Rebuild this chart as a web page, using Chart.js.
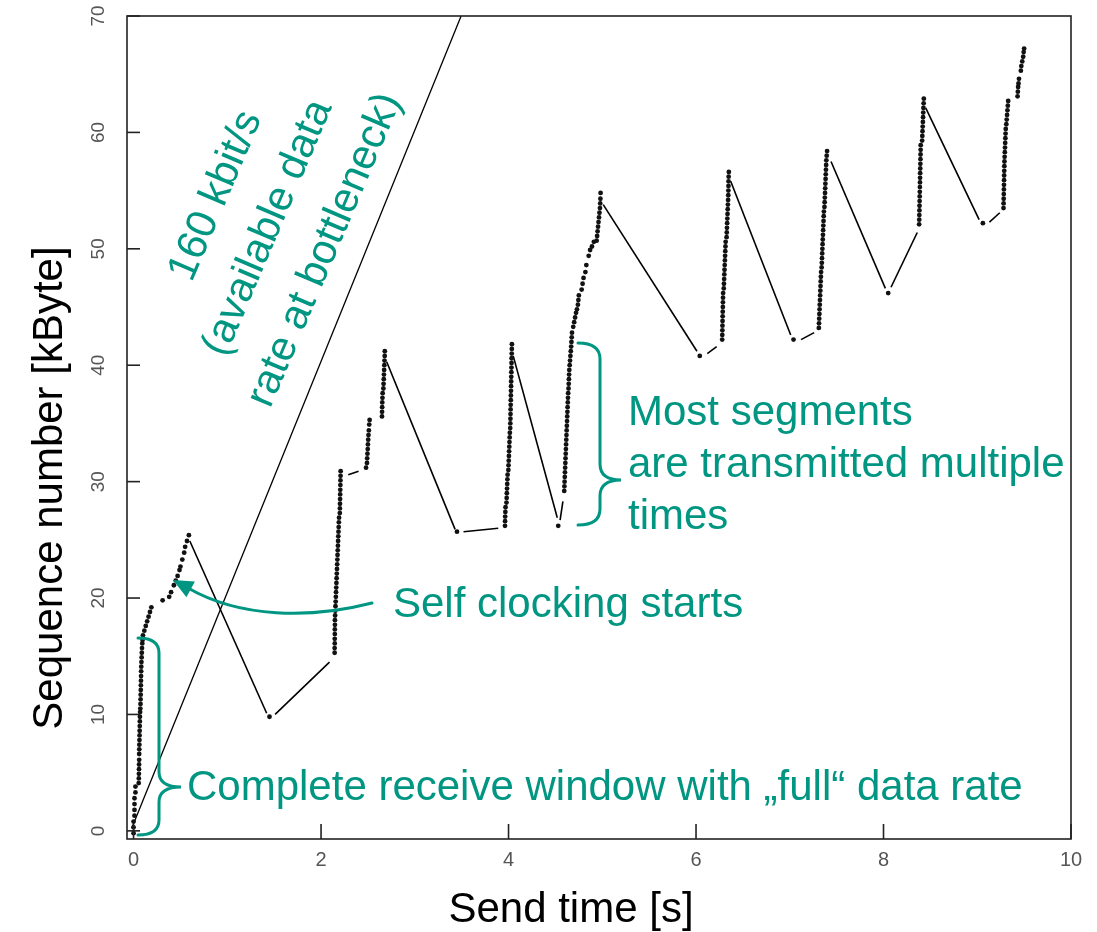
<!DOCTYPE html>
<html>
<head>
<meta charset="utf-8">
<script src="https://cdn.jsdelivr.net/npm/chart.js@4.4.1/dist/chart.umd.min.js"></script>
<style>
html,body{margin:0;padding:0;background:#fff;}
canvas{display:block;}
</style>
</head>
<body>
<canvas id="c" width="1097" height="932"></canvas>
<script>
// ---------- tick labels ----------
const xTicks = [0, 2, 4, 6, 8, 10];
const yTicks = [0, 10, 20, 30, 40, 50, 60, 70];

// ---------- 160 kbit/s reference line [time s, kByte] ----------
const rateLine = [[-0.02, 0.23], [3.494, 70]];

// ---------- connecting line pieces [time s, kByte] ----------
const lineSegs = [
  [[0.60, 24.9], [1.42, 10.1]],
  [[1.51, 10.0], [2.09, 14.5]],
  [[2.29, 30.6], [2.40, 30.9]],
  [[2.70, 40.3], [3.43, 25.9]],
  [[3.52, 25.7], [3.89, 26.0]],
  [[4.05, 40.8], [4.52, 26.9]],
  [[4.55, 26.7], [4.58, 28.3]],
  [[5.01, 53.8], [6.01, 41.2]],
  [[6.12, 41.0], [6.22, 41.6]],
  [[6.37, 55.8], [7.01, 42.6]],
  [[7.12, 42.2], [7.26, 42.8]],
  [[7.44, 57.5], [8.02, 46.6]],
  [[8.08, 46.7], [8.36, 51.4]],
  [[8.45, 62.1], [9.02, 52.5]],
  [[9.13, 52.3], [9.24, 53.1]]
];

// ---------- sent segments (dots) [time s, kByte] ----------
const burstStart = [[0.00,-0.2],[0.00,0.3],[0.00,0.8],[0.01,1.3],[0.01,1.8],[0.01,2.3],[0.01,2.8],[0.02,3.3],[0.02,3.8],
  [0.055,4.1],[0.056,4.5],[0.057,4.9],[0.058,5.3],[0.059,5.7],[0.06,6.1],[0.06,6.6],[0.061,7.0],[0.062,7.4],[0.063,7.8],[0.064,8.2],[0.065,8.6],[0.066,9.0],[0.067,9.4],[0.068,9.8],[0.07,10.2],
  [0.072,10.5],[0.074,10.9],[0.075,11.3],[0.076,11.7],[0.077,12.1],[0.078,12.5],[0.079,12.9],[0.08,13.3],[0.081,13.7],[0.082,14.1],[0.084,14.5],[0.086,14.9],[0.088,15.3],[0.09,15.7],[0.093,16.1],[0.096,16.4],
  [0.10,16.8],[0.115,17.2],[0.13,17.6],[0.145,18.0],[0.16,18.4],[0.175,18.8],[0.19,19.2]];
const burstSelfClock = [[0.31,19.8],[0.38,20.1],[0.40,20.5],[0.43,21.1],[0.45,21.5],[0.47,21.9],[0.49,22.4],[0.50,22.7],[0.52,23.3],[0.54,23.9],[0.55,24.4],[0.57,24.9],[0.59,25.4],[1.45,9.8]];
const burst2 = [[2.145,15.3],[2.145,15.7],[2.146,16.1],[2.146,16.5],[2.147,16.9],[2.147,17.3],[2.148,17.7],[2.148,18.1],[2.150,18.5],[2.152,18.9],[2.154,19.3],[2.156,19.7],[2.158,20.1],[2.160,20.5],[2.162,20.9],[2.164,21.3],[2.166,21.7],[2.168,22.1],[2.170,22.5],[2.172,22.9],[2.174,23.3],[2.176,23.7],[2.178,24.1],[2.180,24.5],[2.182,24.9],[2.184,25.3],[2.186,25.7],[2.188,26.1],[2.190,26.5],[2.192,26.9],[2.200,27.3],[2.201,27.7],[2.202,28.1],[2.203,28.5],[2.204,28.9],[2.205,29.3],[2.206,29.7],[2.207,30.1],[2.208,30.5],[2.209,30.9],
  [2.48,31.2],[2.49,31.6],[2.492,32.0],[2.495,32.4],[2.498,32.8],[2.50,33.2],[2.503,33.6],[2.506,34.0],[2.51,34.4],[2.514,34.9],[2.518,35.3],
  [2.65,35.6],[2.651,36.0],[2.652,36.4],[2.653,36.8],[2.655,37.2],[2.657,37.6],[2.665,38.0],[2.667,38.4],[2.669,38.8],[2.671,39.2],[2.673,39.6],[2.675,40.0],[2.677,40.4],[2.679,40.8],[2.68,41.2],[3.45,25.7]];
const burst3 = [[3.962,26.2],[3.963,26.6],[3.964,27.0],[3.966,27.4],[3.968,27.8],[3.978,28.2],[3.980,28.6],[3.982,29.0],[3.984,29.4],[3.986,29.8],[3.988,30.2],[3.990,30.6],[3.998,31.0],[4.000,31.4],[4.002,31.8],[4.004,32.2],[4.006,32.6],[4.008,33.0],[4.010,33.4],[4.012,33.8],[4.014,34.2],[4.018,34.6],[4.019,35.0],[4.020,35.4],[4.021,35.8],[4.022,36.2],[4.023,36.6],[4.024,37.0],[4.025,37.4],[4.026,37.8],[4.027,38.2],[4.028,38.6],[4.029,39.0],[4.030,39.4],[4.031,39.8],[4.032,40.2],[4.033,40.6],[4.034,41.0],[4.035,41.4],[4.036,41.8],[4.53,26.2]];
const burst4 = [[4.594,29.2],[4.596,29.6],[4.598,30.0],[4.600,30.4],[4.602,30.8],[4.604,31.2],[4.606,31.6],[4.608,32.0],[4.610,32.4],[4.612,32.8],[4.614,33.2],[4.616,33.6],[4.618,34.0],[4.620,34.4],[4.622,34.8],[4.624,35.2],[4.626,35.6],[4.628,36.0],[4.630,36.4],[4.632,36.8],[4.634,37.2],[4.636,37.6],[4.640,38.0],[4.642,38.4],[4.644,38.8],[4.646,39.2],[4.648,39.6],[4.652,40.0],[4.656,40.4],[4.660,40.8],[4.664,41.2],[4.668,41.6],[4.671,42.0],[4.674,42.4],[4.677,42.8],
  [4.69,43.3],[4.70,43.7],[4.71,44.1],[4.72,44.5],[4.73,44.8],[4.74,45.2],[4.745,45.6],[4.75,46.0],[4.78,46.5],[4.79,47.0],[4.80,47.5],[4.82,48.0],[4.83,48.6],[4.855,49.4],[4.87,49.9],[4.89,50.2],[4.91,50.6],[4.94,50.7],[4.945,51.1],[4.95,51.5],[4.955,51.9],[4.96,52.3],[4.965,52.7],[4.97,53.1],[4.975,53.5],[4.978,53.9],[4.98,54.3],[4.982,54.8],[6.04,40.8]];
const burst5 = [[6.279,42.2],[6.280,42.6],[6.281,43.0],[6.282,43.4],[6.283,43.8],[6.284,44.2],[6.285,44.6],[6.286,45.0],[6.287,45.4],[6.288,45.8],[6.289,46.2],[6.296,46.6],[6.298,47.0],[6.300,47.4],[6.302,47.8],[6.304,48.2],[6.306,48.6],[6.308,49.0],[6.310,49.4],[6.312,49.8],[6.314,50.2],[6.316,50.6],[6.326,51.0],[6.328,51.4],[6.330,51.8],[6.332,52.2],[6.334,52.6],[6.336,53.0],[6.338,53.4],[6.340,53.8],[6.342,54.2],[6.344,54.6],[6.345,55.0],[6.346,55.4],[6.347,55.8],[6.348,56.2],[6.350,56.6],[7.04,42.2]];
const burst6 = [[7.310,43.2],[7.312,43.6],[7.314,44.0],[7.316,44.4],[7.318,44.8],[7.320,45.2],[7.322,45.6],[7.324,46.0],[7.326,46.4],[7.328,46.8],[7.330,47.2],[7.332,47.6],[7.334,48.0],[7.340,48.4],[7.342,48.8],[7.344,49.2],[7.346,49.6],[7.348,50.0],[7.350,50.4],[7.352,50.8],[7.354,51.2],[7.356,51.6],[7.358,52.0],[7.360,52.4],[7.362,52.8],[7.364,53.2],[7.370,53.6],[7.372,54.0],[7.374,54.4],[7.376,54.8],[7.378,55.2],[7.380,55.6],[7.382,56.0],[7.384,56.4],[7.386,56.8],[7.388,57.2],[7.390,57.6],[7.394,58.0],[7.398,58.4],[8.05,46.2]];
const burst7 = [[8.380,52.1],[8.381,52.5],[8.382,52.9],[8.383,53.3],[8.384,53.7],[8.385,54.1],[8.386,54.5],[8.387,54.9],[8.388,55.3],[8.389,55.7],[8.390,56.1],[8.391,56.5],[8.392,56.9],[8.393,57.3],[8.394,57.7],[8.395,58.1],[8.396,58.5],[8.397,58.9],[8.412,59.3],[8.414,59.7],[8.416,60.1],[8.418,60.5],[8.420,60.9],[8.422,61.3],[8.424,61.7],[8.426,62.1],[8.428,62.5],[8.430,62.9],[9.06,52.2]];
const burst8 = [[9.280,53.5],[9.281,53.9],[9.282,54.3],[9.283,54.7],[9.284,55.1],[9.285,55.5],[9.286,55.9],[9.287,56.3],[9.288,56.7],[9.289,57.1],[9.290,57.5],[9.292,57.9],[9.294,58.3],[9.296,58.7],[9.298,59.1],[9.300,59.5],[9.302,59.9],[9.304,60.3],[9.310,60.7],[9.314,61.1],[9.318,61.5],[9.322,61.9],[9.326,62.3],[9.330,62.7],
  [9.430,63.1],[9.433,63.5],[9.436,63.9],[9.44,64.2],[9.445,64.6],[9.465,65.3],[9.47,65.7],[9.48,66.1],[9.49,66.5],[9.495,66.9],[9.50,67.2]];

// ---------- chart ----------
const TEAL = '#009682';
const toXY = arr => arr.map(p => ({x: p[0], y: p[1]}));
const allDots = [].concat(burstStart, burstSelfClock, burst2, burst3, burst4, burst5, burst6, burst7, burst8);

const datasets = [
  {label: '160 kbit/s', data: toXY(rateLine), showLine: true, borderColor: '#000', borderWidth: 1.3, pointRadius: 0, order: 2}
].concat(lineSegs.map((s, i) => ({
  label: 'seg' + i, data: toXY(s), showLine: true, borderColor: '#000', borderWidth: 1.6, pointRadius: 0, order: 2
}))).concat([
  {label: 'segments', data: toXY(allDots), showLine: false, pointRadius: 2.4, pointBorderWidth: 0, backgroundColor: '#111', order: 1}
]);

function brace(c, xL, xM, xT, yTop, yTip, yBot, r) {
  c.beginPath();
  c.moveTo(xL, yTop);
  c.quadraticCurveTo(xM, yTop, xM, yTop + r);
  c.lineTo(xM, yTip - r);
  c.quadraticCurveTo(xM, yTip, xT, yTip);
  c.quadraticCurveTo(xM, yTip, xM, yTip + r);
  c.lineTo(xM, yBot - r);
  c.quadraticCurveTo(xM, yBot, xL, yBot);
  c.stroke();
}

const decor = {
  id: 'decor',
  afterDraw(chart) {
    const c = chart.ctx, a = chart.chartArea;
    const xs = chart.scales.x, ys = chart.scales.y;
    c.save();
    // frame
    c.strokeStyle = '#222'; c.lineWidth = 1.6;
    c.strokeRect(a.left, a.top, a.right - a.left, a.bottom - a.top);
    // inward ticks
    xTicks.forEach(v => { const p = xs.getPixelForValue(v); c.beginPath(); c.moveTo(p, a.bottom); c.lineTo(p, a.bottom - 15); c.stroke(); });
    yTicks.forEach(v => { const p = ys.getPixelForValue(v); c.beginPath(); c.moveTo(a.left, p); c.lineTo(a.left + 13, p); c.stroke(); });
    // axis titles
    c.fillStyle = '#000';
    c.font = '42px "Liberation Sans", Arial, sans-serif';
    c.textAlign = 'center'; c.textBaseline = 'middle';
    c.fillText('Send time [s]', 571, 910);
    c.save(); c.translate(50, 488); c.rotate(-Math.PI / 2); c.fillText('Sequence number [kByte]', 0, 0); c.restore();
    // annotations
    c.fillStyle = TEAL; c.strokeStyle = TEAL;
    const ang = -67 * Math.PI / 180;
    [['160 kbit/s', 216, 196], ['(available data', 268, 228], ['rate at bottleneck)', 325, 250]].forEach(([t, x, y]) => {
      c.save(); c.translate(x, y); c.rotate(ang); c.fillText(t, 0, 0); c.restore();
    });
    c.textAlign = 'left';
    c.fillText('Most segments', 628, 413);
    c.fillText('are transmitted multiple', 628, 465);
    c.fillText('times', 628, 517);
    c.fillText('Self clocking starts', 393, 605);
    c.fillText('Complete receive window with \u201Efull\u201C data rate', 187, 788);
    // braces
    c.lineWidth = 3; c.lineCap = 'round';
    brace(c, 138, 159, 181, 638, 787, 835, 15);
    brace(c, 578, 600, 621, 343, 480, 525, 16);
    // arrow
    c.beginPath();
    c.moveTo(372, 603);
    c.bezierCurveTo(310, 619, 240, 618, 188, 588);
    c.stroke();
    const tx = 173, ty = 580, dx = 190 - tx, dy = 589 - ty, L = Math.hypot(dx, dy);
    const ux = dx / L, uy = dy / L, hl = 20, hw = 9;
    c.beginPath();
    c.moveTo(tx, ty);
    c.lineTo(tx + ux * hl - uy * hw, ty + uy * hl + ux * hw);
    c.lineTo(tx + ux * hl + uy * hw, ty + uy * hl - ux * hw);
    c.closePath(); c.fill();
    c.restore();
  }
};

new Chart(document.getElementById('c'), {
  type: 'scatter',
  data: {datasets},
  options: {
    responsive: false, animation: false, devicePixelRatio: 1,
    layout: {padding: {top: 16, right: 26, left: 0, bottom: 0}},
    plugins: {legend: {display: false}, tooltip: {enabled: false}},
    scales: {
      x: {
        type: 'linear', min: -0.07, max: 10.0,
        grid: {display: false}, border: {display: false},
        afterFit: s => { s.height = 93; s.paddingLeft = 0; s.paddingRight = 0; },
        afterBuildTicks: s => { s.ticks = xTicks.map(v => ({value: v})); },
        ticks: {font: {family: '"Liberation Sans Narrow", "Liberation Sans", Arial', size: 20}, color: '#555', padding: 1, maxRotation: 0, autoSkip: false, callback: v => String(v)}
      },
      y: {
        type: 'linear', min: -0.7, max: 70,
        grid: {display: false}, border: {display: false},
        afterFit: s => { s.width = 127; s.paddingTop = 0; s.paddingBottom = 0; },
        afterBuildTicks: s => { s.ticks = yTicks.map(v => ({value: v})); },
        ticks: {font: {family: '"Liberation Sans", Arial', size: 19}, color: '#555', padding: 10, minRotation: 90, maxRotation: 90, crossAlign: 'center', autoSkip: false, callback: v => String(v)}
      }
    }
  },
  plugins: [decor]
});
</script>
</body>
</html>
